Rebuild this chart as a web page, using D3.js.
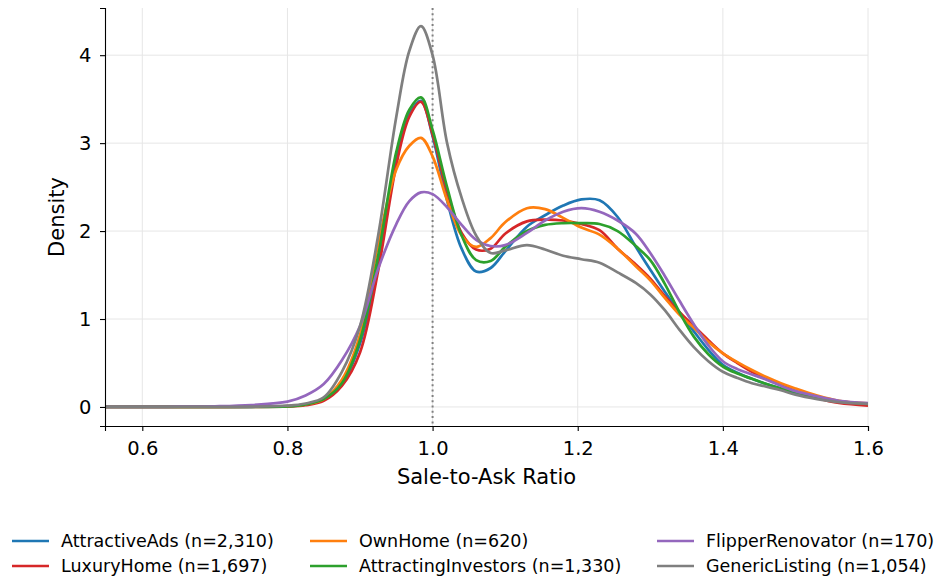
<!DOCTYPE html>
<html>
<head>
<meta charset="utf-8">
<script src="https://cdn.jsdelivr.net/npm/d3@7"></script>
<style>
  body { margin: 0; background: #fff; }
  svg { font-family: "DejaVu Sans", sans-serif; }
</style>
</head>
<body>
<svg></svg>
<script>
// sale-to-ask ratio grid (x) and density readings per group
const ratioGrid = [0.54, 0.6, 0.65, 0.7, 0.75, 0.8, 0.825, 0.85, 0.875, 0.9, 0.925, 0.95, 0.968, 0.984, 1.0, 1.02, 1.04, 1.06, 1.08, 1.1, 1.13, 1.155, 1.18, 1.205, 1.23, 1.255, 1.28, 1.3, 1.32, 1.34, 1.36, 1.38, 1.4, 1.42, 1.44, 1.46, 1.48, 1.5, 1.53, 1.56, 1.6];

const attractiveAds =       [0, 0, 0, 0, 0.002, 0.01, 0.03, 0.08, 0.26, 0.72, 1.62, 2.85, 3.33, 3.48, 3.08, 2.35, 1.8, 1.54, 1.58, 1.77, 2.05, 2.18, 2.29, 2.36, 2.35, 2.16, 1.82, 1.56, 1.31, 1.08, 0.86, 0.65, 0.48, 0.39, 0.32, 0.26, 0.21, 0.16, 0.1, 0.055, 0.03];
const luxuryHome =          [0, 0, 0, 0, 0.001, 0.005, 0.02, 0.07, 0.24, 0.62, 1.55, 2.75, 3.3, 3.47, 3.1, 2.45, 1.98, 1.79, 1.8, 1.97, 2.11, 2.13, 2.12, 2.08, 2.01, 1.8, 1.62, 1.46, 1.26, 1.08, 0.92, 0.76, 0.61, 0.5, 0.4, 0.32, 0.25, 0.18, 0.1, 0.045, 0.015];
const ownHome =             [0, 0, 0, 0.001, 0.003, 0.01, 0.03, 0.09, 0.31, 0.82, 1.85, 2.7, 2.97, 3.06, 2.85, 2.35, 1.95, 1.82, 1.92, 2.1, 2.26, 2.25, 2.15, 2.04, 1.96, 1.8, 1.6, 1.44, 1.24, 1.05, 0.9, 0.74, 0.61, 0.51, 0.42, 0.34, 0.27, 0.21, 0.13, 0.07, 0.04];
const attractingInvestors = [0, 0, 0, 0, 0.001, 0.005, 0.03, 0.09, 0.27, 0.76, 1.72, 2.9, 3.38, 3.52, 3.15, 2.5, 1.95, 1.67, 1.66, 1.82, 2.0, 2.07, 2.09, 2.09, 2.08, 2.0, 1.83, 1.67, 1.4, 1.08, 0.8, 0.6, 0.46, 0.38, 0.32, 0.26, 0.21, 0.17, 0.11, 0.065, 0.035];
const flipperRenovator =    [0, 0.001, 0.003, 0.008, 0.022, 0.06, 0.13, 0.26, 0.53, 0.92, 1.57, 2.08, 2.34, 2.44, 2.42, 2.27, 2.07, 1.9, 1.83, 1.84, 1.98, 2.12, 2.22, 2.26, 2.22, 2.12, 1.97, 1.75, 1.49, 1.21, 0.94, 0.7, 0.52, 0.43, 0.37, 0.31, 0.24, 0.18, 0.12, 0.07, 0.045];
const genericListing =      [0, 0, 0, 0.001, 0.003, 0.015, 0.04, 0.11, 0.4, 0.92, 1.95, 3.3, 4.05, 4.33, 4.0, 3.0, 2.38, 1.95, 1.75, 1.78, 1.84, 1.79, 1.72, 1.68, 1.64, 1.53, 1.41, 1.28, 1.1, 0.88, 0.68, 0.52, 0.4, 0.33, 0.27, 0.23, 0.19, 0.14, 0.09, 0.055, 0.035];

const seriesNames = ["AttractiveAds", "LuxuryHome", "OwnHome", "AttractingInvestors", "FlipperRenovator", "GenericListing"];
const seriesCounts = ["2,310", "1,697", "620", "1,330", "170", "1,054"];
const seriesValues = [attractiveAds, luxuryHome, ownHome, attractingInvestors, flipperRenovator, genericListing];
const seriesColors = ["#1f77b4", "#d62728", "#ff7f0e", "#2ca02c", "#9467bd", "#7f7f7f"];

const xTicks = [0.6, 0.8, 1.0, 1.2, 1.4, 1.6];
const yTicks = [0, 1, 2, 3, 4];

const width = 938;
const height = 579;
const margin = { left: 105, right: 70, top: 8, bottom: 153 };
const svg = d3.select("svg").attr("width", width).attr("height", height);

const xScale = d3.scaleLinear().domain([0.5486, 1.6]).range([margin.left, width - margin.right]);
const yScale = d3.scaleLinear().domain([-0.2165, 4.5365]).range([height - margin.bottom, margin.top]);

const plotLeft = margin.left;
const plotRight = width - margin.right;
const plotTop = margin.top;
const plotBottom = height - margin.bottom;

// grid
const grid = svg.append("g").attr("stroke", "#e6e6e6").attr("stroke-width", 1);
xTicks.forEach((t) => {
  grid.append("line")
    .attr("x1", xScale(t)).attr("x2", xScale(t))
    .attr("y1", plotTop).attr("y2", plotBottom);
});
yTicks.forEach((t) => {
  grid.append("line")
    .attr("x1", plotLeft).attr("x2", plotRight)
    .attr("y1", yScale(t)).attr("y2", yScale(t));
});

// reference line at ratio 1.0
svg.append("line")
  .attr("x1", xScale(1)).attr("x2", xScale(1))
  .attr("y1", plotTop).attr("y2", plotBottom)
  .attr("stroke", "#808080")
  .attr("stroke-width", 2)
  .attr("stroke-dasharray", "2,3.3");

svg.append("clipPath").attr("id", "plot-clip")
  .append("rect")
  .attr("x", plotLeft).attr("y", plotTop)
  .attr("width", plotRight - plotLeft).attr("height", plotBottom - plotTop);

const line = d3.line()
  .x((d) => xScale(d[0]))
  .y((d) => yScale(d[1]))
  .curve(d3.curveCatmullRom.alpha(0.5));

const curves = svg.append("g").attr("clip-path", "url(#plot-clip)");
seriesValues.forEach((vals, i) => {
  curves.append("path")
    .datum(ratioGrid.map((x, j) => [x, vals[j]]))
    .attr("fill", "none")
    .attr("stroke", seriesColors[i])
    .attr("stroke-width", 2.7)
    .attr("stroke-linejoin", "round")
    .attr("d", line);
});

// axes
const xAxis = d3.axisBottom(xScale).tickValues(xTicks).tickFormat(d3.format(".1f")).tickSizeOuter(0).tickSize(5).tickPadding(10);
const yAxis = d3.axisLeft(yScale).tickValues(yTicks).tickFormat(d3.format("d")).tickSizeOuter(0).tickSize(5).tickPadding(8.5);

const gx = svg.append("g")
  .attr("transform", "translate(0," + plotBottom + ")")
  .call(xAxis);
const gy = svg.append("g")
  .attr("transform", "translate(" + plotLeft + ",0)")
  .call(yAxis);

[gx, gy].forEach((g) => {
  g.attr("font-family", "DejaVu Sans").attr("font-size", 19.5);
  g.selectAll("text").attr("fill", "#000");
  g.selectAll("line").attr("stroke", "#000").attr("stroke-width", 1.1);
  g.select(".domain").attr("stroke", "#000").attr("stroke-width", 1.1);
});

svg.append("text")
  .attr("x", (plotLeft + plotRight) / 2)
  .attr("y", 484)
  .attr("text-anchor", "middle")
  .attr("font-size", 21)
  .text("Sale-to-Ask Ratio");

svg.append("text")
  .attr("transform", "translate(64," + (plotTop + plotBottom) / 2 + ") rotate(-90)")
  .attr("text-anchor", "middle")
  .attr("font-size", 21)
  .text("Density");

// legend: 3 columns, filled column-wise
const legendCols = [12, 310, 657];
const legendRows = [541, 566];
const legend = svg.append("g");
seriesNames.forEach((name, i) => {
  const col = Math.floor(i / 2);
  const row = i % 2;
  const lx = legendCols[col];
  const ly = legendRows[row];
  legend.append("line")
    .attr("x1", lx).attr("x2", lx + 37)
    .attr("y1", ly).attr("y2", ly)
    .attr("stroke", seriesColors[i])
    .attr("stroke-width", 2.7);
  legend.append("text")
    .attr("x", lx + 49)
    .attr("y", ly)
    .attr("dy", "0.35em")
    .attr("font-size", 17.5)
    .text(name + " (n=" + seriesCounts[i] + ")");
});
</script>
</body>
</html>
